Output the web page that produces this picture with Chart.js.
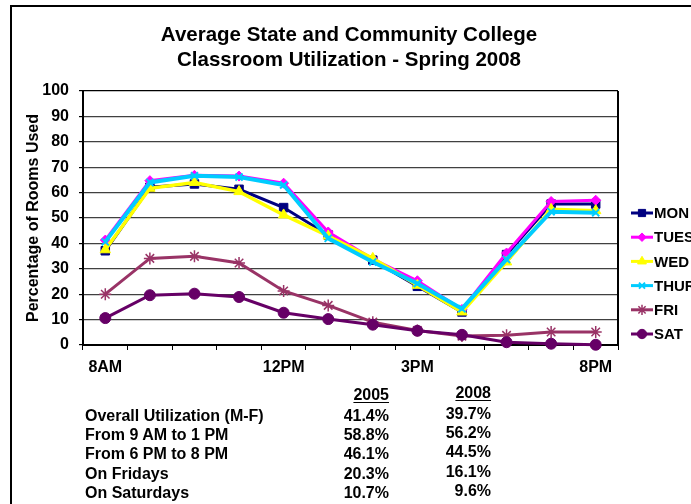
<!DOCTYPE html>
<html>
<head>
<meta charset="utf-8">
<title>Classroom Utilization - Spring 2008</title>
<script src="https://cdn.jsdelivr.net/npm/chart.js@4/dist/chart.umd.min.js"></script>
<style>
  html, body { margin: 0; padding: 0; background: #fff; overflow: hidden; }
  #wrap { position: relative; width: 691px; height: 504px; overflow: hidden; background: #fff; }
  #chart { position: absolute; left: 0; top: 0; }
  .cell { position: absolute; font: bold 16px "Liberation Sans", Arial, sans-serif; color: #000; line-height: 20px; white-space: nowrap; }
  .num { text-align: right; width: 80px; }
  .head { text-decoration: underline; text-underline-offset: 2px; }
</style>
</head>
<body>
<div id="wrap">
  <!-- the sheet continues past the right edge of the window; only its left part shows -->
  <canvas id="chart" width="760" height="504"></canvas>
</div>
<script>
// Hourly slots along the x axis; only some carry a printed label
const tickLabels = ['8AM', '', '', '', '12PM', '', '', '3PM', '', '', '', '8PM'];

// Percentage of rooms in use for each day
const mon  = [37.1, 62.1, 63.4, 61.3, 54.1, 43.3, 33.4, 23.1, 13.0, 35.6, 55.5, 55.5];
const tues = [41.3, 64.7, 66.8, 66.5, 63.7, 44.5, 33.8, 25.3, 14.0, 36.2, 56.5, 57.0];
const wed  = [37.5, 61.7, 64.0, 60.4, 51.2, 42.9, 34.1, 23.5, 13.0, 32.7, 53.4, 52.9];
const thur = [40.6, 64.0, 66.6, 66.1, 63.0, 42.0, 32.7, 24.2, 14.3, 33.7, 52.5, 52.1];
const fri  = [20.0, 34.1, 34.9, 32.3, 21.3, 15.6, 9.0, 5.7, 3.5, 3.8, 5.1, 5.1];
const sat  = [10.6, 19.6, 20.2, 18.9, 12.7, 10.2, 8.0, 5.6, 4.0, 1.1, 0.5, 0.1];

// Chart heading
const titleLines = ['Average State and Community College', 'Classroom Utilization - Spring 2008'];

// Summary table under the chart
const tableRows   = ['Overall Utilization (M-F)', 'From 9 AM to 1 PM', 'From 6 PM to 8 PM', 'On Fridays', 'On Saturdays'];
const tableYears  = ['2005', '2008'];
const values2005  = ['41.4%', '58.8%', '46.1%', '20.3%', '10.7%'];
const values2008  = ['39.7%', '56.2%', '44.5%', '16.1%', '9.6%'];

const FONT = '"Liberation Sans", Arial, sans-serif';

function series(label, data, color, style, radius, lineWidth, order, pointBorder) {
  return {
    label, data, order,
    borderColor: color,
    backgroundColor: color,
    pointBackgroundColor: color,
    pointBorderColor: color,
    pointStyle: style,
    pointRadius: radius,
    pointBorderWidth: pointBorder,
    borderWidth: lineWidth,
    tension: 0,
    clip: false
  };
}

// Background, outer frame (left and top edges), heading, and right edge of the plot
const framePlugin = {
  id: 'frame',
  beforeDraw(chart, args, opts) {
    const ctx = chart.ctx;
    ctx.save();
    ctx.fillStyle = '#fff';
    ctx.fillRect(0, 0, chart.width, chart.height);
    ctx.strokeStyle = '#000';
    ctx.lineWidth = 2;
    ctx.beginPath();
    ctx.moveTo(11, chart.height);
    ctx.lineTo(11, 6);
    ctx.lineTo(chart.width, 6);
    ctx.stroke();
    ctx.fillStyle = '#000';
    ctx.font = 'bold 20.5px ' + FONT;
    ctx.textAlign = 'center';
    ctx.textBaseline = 'middle';
    titleLines.forEach((t, i) => ctx.fillText(t, opts.titleX, opts.titleY + i * opts.titleStep));
    ctx.restore();
  },
  afterDraw(chart) {
    const a = chart.chartArea;
    const ctx = chart.ctx;
    ctx.save();
    ctx.strokeStyle = '#000';
    ctx.lineWidth = 2;
    ctx.beginPath();
    ctx.moveTo(a.right, a.top);
    ctx.lineTo(a.right, a.bottom);
    ctx.stroke();
    ctx.restore();
  }
};

// Legend on the right: a short line with the series marker, then the name
const sideLegend = {
  id: 'sideLegend',
  afterDraw(chart, args, opts) {
    const ctx = chart.ctx;
    ctx.save();
    chart.data.datasets.forEach((ds, i) => {
      const y = opts.top + i * opts.spacing;
      ctx.strokeStyle = ds.borderColor;
      ctx.lineWidth = 3;
      ctx.beginPath();
      ctx.moveTo(opts.x, y);
      ctx.lineTo(opts.x + opts.lineLength, y);
      ctx.stroke();
      ctx.fillStyle = ds.pointBackgroundColor;
      ctx.strokeStyle = ds.pointBorderColor;
      ctx.lineWidth = ds.pointBorderWidth;
      Chart.helpers.drawPoint(ctx, {
        pointStyle: ds.pointStyle,
        radius: ds.pointRadius * 0.85,
        borderWidth: ds.pointBorderWidth,
        rotation: 0
      }, opts.x + opts.lineLength / 2, y);
      ctx.fillStyle = '#000';
      ctx.font = 'bold 15px ' + FONT;
      ctx.textBaseline = 'middle';
      ctx.textAlign = 'left';
      ctx.fillText(ds.label, opts.textX, y + 1);
    });
    ctx.restore();
  }
};

new Chart(document.getElementById('chart'), {
  type: 'line',
  data: {
    labels: tickLabels,
    datasets: [
      series('MON',  mon,  '#000080', 'rect',     6,   3,   6, 1),
      series('TUES', tues, '#FF00FF', 'rectRot',  5,   3,   5, 1),
      series('WED',  wed,  '#FFFF00', 'triangle', 6,   3.5, 4, 1),
      series('THUR', thur, '#00CCFF', 'crossRot', 5,   4,   3, 2),
      series('FRI',  fri,  '#993366', 'star',     6,   3,   2, 1.5),
      series('SAT',  sat,  '#660066', 'circle',   5.5, 3,   1, 1)
    ]
  },
  options: {
    responsive: false,
    animation: false,
    events: [],
    layout: { padding: { left: 7, right: 142, top: 91, bottom: 119 } },
    plugins: {
      legend: { display: false },
      tooltip: { enabled: false },
      title: { display: false },
      frame: { titleX: 349, titleY: 35, titleStep: 25 },
      sideLegend: { x: 631, top: 213, spacing: 24.2, lineLength: 22, textX: 654 }
    },
    scales: {
      x: {
        type: 'category',
        offset: true,
        afterFit(scale) { scale.height = 40; },
        grid: {
          offset: true,
          drawOnChartArea: false,
          drawTicks: true,
          tickLength: 5,
          tickColor: '#000',
          tickWidth: 1
        },
        border: { display: true, color: '#000', width: 2 },
        ticks: {
          autoSkip: false,
          maxRotation: 0,
          minRotation: 0,
          padding: 8,
          color: '#000',
          font: { family: FONT, size: 16, weight: 'bold' }
        }
      },
      y: {
        position: 'left',
        min: 0,
        max: 100,
        afterFit(scale) { scale.width = 76; },
        ticks: {
          stepSize: 10,
          padding: 10,
          color: '#000',
          font: { family: FONT, size: 16, weight: 'bold' }
        },
        grid: {
          color: ctx => (ctx.tick && ctx.tick.value === 100) ? '#000' : '#404040',
          lineWidth: 1.2,
          tickLength: 4,
          tickColor: '#000'
        },
        border: { display: true, color: '#000', width: 2 },
        title: {
          display: true,
          text: 'Percentage of Rooms Used',
          color: '#000',
          font: { family: FONT, size: 16, weight: 'bold' },
          padding: { top: 17, bottom: 0 }
        }
      }
    }
  },
  plugins: [framePlugin, sideLegend]
});

// Summary table below the plot
(function buildTable() {
  const wrap = document.getElementById('wrap');
  function cell(text, left, top, cls) {
    const d = document.createElement('div');
    d.className = 'cell ' + (cls || '');
    d.textContent = text;
    d.style.left = left + 'px';
    d.style.top = top + 'px';
    wrap.appendChild(d);
  }
  const rowTop = [406, 425, 444, 463.5, 483];
  cell(tableYears[0], 309, 385, 'num head');
  cell(tableYears[1], 411, 383, 'num head');
  tableRows.forEach((r, i) => {
    cell(r, 85, rowTop[i]);
    cell(values2005[i], 309, rowTop[i], 'num');
    cell(values2008[i], 411, rowTop[i] - 2, 'num');
  });
})();
</script>
</body>
</html>
